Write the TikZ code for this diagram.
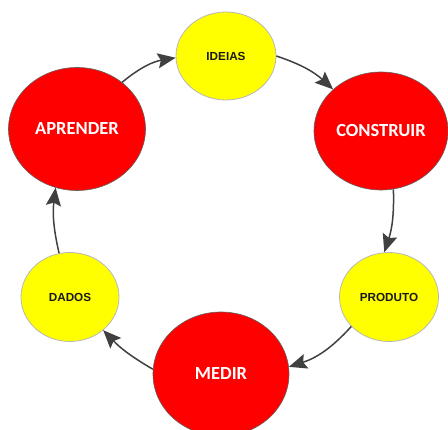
\documentclass[tikz,border=0pt]{standalone}
\usepackage{fontspec}
\newfontfamily\arialf{Liberation Sans}
\newfontfamily\calibf{Carlito}
\usetikzlibrary{shapes.geometric,arrows.meta}
\definecolor{redfill}{HTML}{FF0000}
\definecolor{yelfill}{HTML}{FFFF00}
\definecolor{arrowgray}{HTML}{404040}
\definecolor{redline}{HTML}{606060}
\definecolor{yelline}{HTML}{B8B8B8}
\tikzset{
  bigstage/.style={ellipse, fill=redfill, draw=redline, line width=0.6pt, inner sep=0pt,
    text=white, font=\calibf\bfseries\fontsize{18.5}{20}\selectfont},
  smallstage/.style={ellipse, fill=yelfill, draw=yelline, line width=0.8pt, inner sep=0pt,
    text=black!90, font=\arialf\bfseries\fontsize{11.7}{13}\selectfont},
  flow/.style={draw=arrowgray, line width=1.5pt, -{Stealth[length=18pt,width=15pt,inset=3pt]}}
}
\begin{document}
\begin{tikzpicture}[x=1pt,y=-1pt]
\useasboundingbox (0,0) rectangle (448,430);
\node[smallstage, minimum width=100pt, minimum height=88pt] (ideias) at (226,56) {IDEIAS};
\node[bigstage, minimum width=137pt, minimum height=123pt] (aprender) at (77,129) {APRENDER};
\node[bigstage, minimum width=134pt, minimum height=118pt] (construir) at (381,131) {CONSTRUIR};
\node[smallstage, minimum width=98pt, minimum height=89pt] (dados) at (70,297) {DADOS};
\node[smallstage, minimum width=99pt, minimum height=89pt] (produto) at (389,297) {PRODUTO};
\node[bigstage, minimum width=136pt, minimum height=124pt] (medir) at (221,374) {MEDIR};

\draw[flow] (aprender.46) to[bend left=15] (ideias.182);
\draw[flow] (ideias.0) to[bend left=12] (construir.139);
\draw[flow] (construir.-78) to[bend left=10] (produto.96);
\draw[flow] (produto.218) to[bend left=15] (medir.6);
\draw[flow] (medir.176) to[bend left=8] (dados.-45);
\draw[flow] (dados.104) to[bend left=10] (aprender.-110);
\end{tikzpicture}
\end{document}
